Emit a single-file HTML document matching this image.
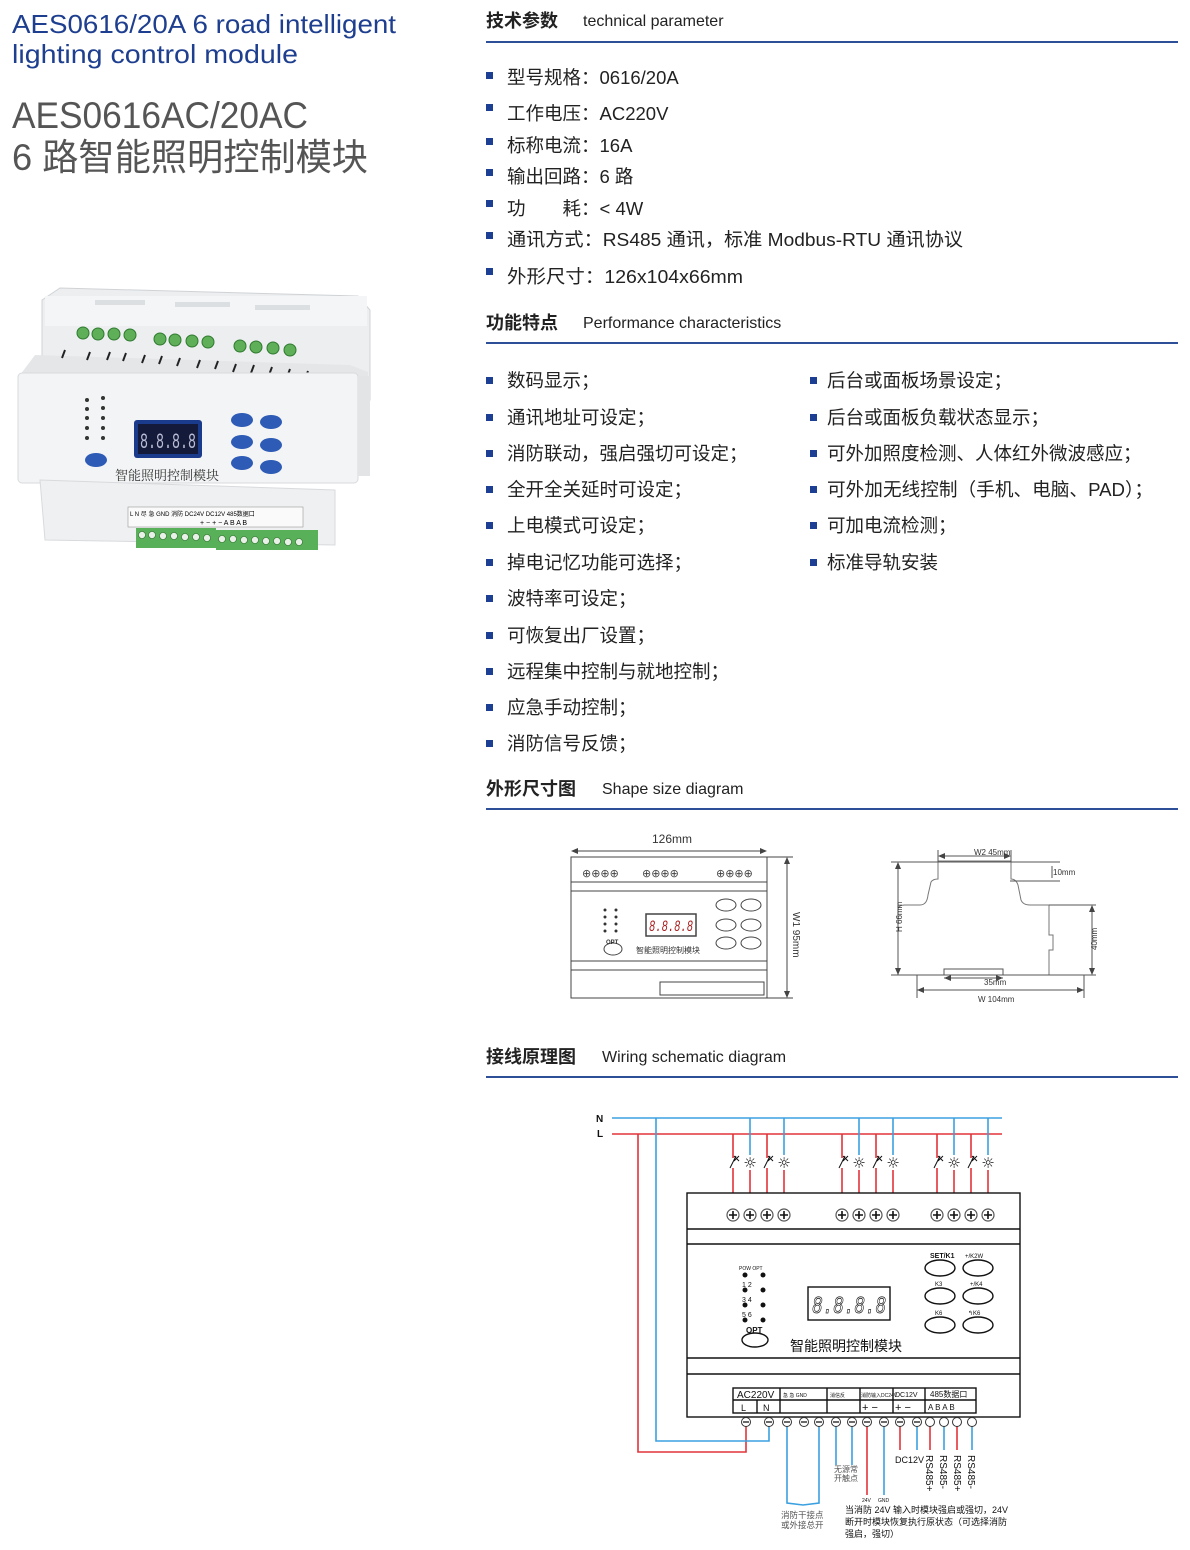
<!DOCTYPE html>
<html><head><meta charset="utf-8">
<style>
html,body{margin:0;padding:0;background:#fff;}
svg{display:block;}
.t{font-family:"Liberation Sans","Noto Sans CJK SC",sans-serif;}
.c{font-family:"Liberation Sans","Noto Sans CJK SC",sans-serif;}
</style></head>
<body>
<svg width="1190" height="1550" viewBox="0 0 1190 1550" xmlns="http://www.w3.org/2000/svg">
<!-- Left titles -->
<g class="t" fill="#1e3f8f" font-size="26">
<text x="12" y="33" textLength="384" lengthAdjust="spacingAndGlyphs">AES0616/20A  6 road intelligent</text>
<text x="12" y="63" textLength="286" lengthAdjust="spacingAndGlyphs">lighting control module</text>
</g>
<g class="t" fill="#555" font-size="37">
<text x="12" y="128" textLength="296" lengthAdjust="spacingAndGlyphs">AES0616AC/20AC</text>
<text x="12" y="170" textLength="356" lengthAdjust="spacingAndGlyphs">6 路智能照明控制模块</text>
</g>

<!-- Product image -->
<g>
<polygon points="42,300 60,288 358,296 370,310 370,400 42,400" fill="#eceef0" stroke="#d0d3d6"/>
<rect x="45" y="296" width="322" height="30" fill="#f4f5f6"/>
<g fill="#dcdfe2">
<rect x="95" y="300" width="50" height="5"/><rect x="175" y="302" width="55" height="5"/><rect x="255" y="305" width="55" height="5"/>
</g>
<g fill="#5fae58" stroke="#2f7a2f" stroke-width="1">
<circle cx="83" cy="333" r="6"/><circle cx="98" cy="334" r="6"/><circle cx="114" cy="334" r="6"/><circle cx="130" cy="335" r="6"/>
<circle cx="160" cy="339" r="6"/><circle cx="175" cy="340" r="6"/><circle cx="192" cy="341" r="6"/><circle cx="208" cy="342" r="6"/>
<circle cx="240" cy="346" r="6"/><circle cx="256" cy="347" r="6"/><circle cx="273" cy="348" r="6"/><circle cx="290" cy="350" r="6"/>
</g>
<polygon points="35,355 350,365 368,372 368,390 20,375" fill="#e4e6e8"/>
<g stroke="#222" stroke-width="2">
<line x1="65" y1="350" x2="62" y2="358"/><line x1="90" y1="352" x2="87" y2="360"/><line x1="110" y1="352" x2="107" y2="360"/><line x1="126" y1="353" x2="123" y2="361"/><line x1="145" y1="355" x2="142" y2="363"/><line x1="162" y1="356" x2="159" y2="364"/><line x1="180" y1="358" x2="177" y2="366"/><line x1="200" y1="360" x2="197" y2="368"/><line x1="218" y1="361" x2="215" y2="369"/><line x1="236" y1="364" x2="233" y2="372"/><line x1="254" y1="365" x2="251" y2="373"/><line x1="272" y1="367" x2="269" y2="375"/><line x1="290" y1="369" x2="287" y2="377"/><line x1="308" y1="371" x2="305" y2="379"/>
</g>
<rect x="18" y="373" width="340" height="110" rx="4" fill="#f3f4f5" stroke="#d8dadd"/>
<rect x="358" y="376" width="12" height="100" fill="#e2e4e6"/>
<rect x="134" y="420" width="68" height="38" rx="3" fill="#1a3a8c"/>
<rect x="138" y="424" width="60" height="30" fill="#141a3a"/>
<text x="140" y="448" font-family="Liberation Mono,monospace" font-size="22" fill="#b9bcd4" textLength="56" lengthAdjust="spacingAndGlyphs">8.8.8.8</text>
<g fill="#2d5bb5">
<ellipse cx="96" cy="460" rx="11" ry="7"/>
<ellipse cx="242" cy="420" rx="11" ry="7"/><ellipse cx="271" cy="422" rx="11" ry="7"/>
<ellipse cx="242" cy="442" rx="11" ry="7"/><ellipse cx="271" cy="445" rx="11" ry="7"/>
<ellipse cx="242" cy="463" rx="11" ry="7"/><ellipse cx="271" cy="467" rx="11" ry="7"/>
</g>
<g fill="#333"><circle cx="87" cy="400" r="2"/><circle cx="87" cy="409" r="2"/><circle cx="87" cy="418" r="2"/><circle cx="87" cy="428" r="2"/><circle cx="87" cy="438" r="2"/><circle cx="103" cy="398" r="2"/><circle cx="103" cy="408" r="2"/><circle cx="103" cy="418" r="2"/><circle cx="103" cy="428" r="2"/><circle cx="103" cy="438" r="2"/></g>
<text x="115" y="480" font-family="Liberation Serif,Noto Serif CJK SC,serif" font-size="13" fill="#333">智能照明控制模块</text>
<polygon points="40,480 335,490 335,545 45,540" fill="#eef0f1" stroke="#d8dadd"/>
<rect x="128" y="507" width="175" height="20" fill="#fafafa" stroke="#999" stroke-width="0.6"/>
<text x="130" y="516" font-size="6" font-family="Liberation Sans,sans-serif">L N 尽 急 GND 消防 DC24V DC12V 485数据口</text>
<text x="200" y="525" font-size="7" font-family="Liberation Sans,sans-serif">+ − + − A B A B</text>
<rect x="136" y="528" width="80" height="20" fill="#58b058"/>
<rect x="216" y="530" width="102" height="20" fill="#58b058"/>
<g fill="#e8f0e8" stroke="#2d6b2d" stroke-width="0.6"><circle cx="142" cy="535" r="3.5"/><circle cx="152" cy="535" r="3.5"/><circle cx="163" cy="536" r="3.5"/><circle cx="174" cy="536" r="3.5"/><circle cx="185" cy="537" r="3.5"/><circle cx="196" cy="537" r="3.5"/><circle cx="207" cy="538" r="3.5"/><circle cx="222" cy="539" r="3.5"/><circle cx="233" cy="539" r="3.5"/><circle cx="244" cy="540" r="3.5"/><circle cx="255" cy="540" r="3.5"/><circle cx="266" cy="541" r="3.5"/><circle cx="277" cy="541" r="3.5"/><circle cx="288" cy="542" r="3.5"/><circle cx="299" cy="542" r="3.5"/></g>
</g>

<!-- Right column headings -->
<g class="t">
<text x="486" y="27" font-size="18" fill="#222" font-weight="bold">技术参数</text>
<text x="583" y="26" font-size="16" fill="#222">technical parameter</text>
<text x="486" y="329" font-size="18" fill="#222" font-weight="bold">功能特点</text>
<text x="583" y="328" font-size="16" fill="#222">Performance  characteristics</text>
<text x="486" y="795" font-size="18" fill="#222" font-weight="bold">外形尺寸图</text>
<text x="602" y="794" font-size="16" fill="#222">Shape size diagram</text>
<text x="486" y="1063" font-size="18" fill="#222" font-weight="bold">接线原理图</text>
<text x="602" y="1062" font-size="16" fill="#222">Wiring schematic diagram</text>
</g>
<g fill="#2c4f97">
<rect x="486" y="41" width="692" height="2"/>
<rect x="486" y="342" width="692" height="2"/>
<rect x="486" y="808" width="692" height="2"/>
<rect x="486" y="1076" width="692" height="2"/>
</g>

<!-- Spec list -->
<g fill="#1c3f94">
<rect x="486" y="72" width="7" height="7"/><rect x="486" y="104" width="7" height="7"/><rect x="486" y="138" width="7" height="7"/><rect x="486" y="169" width="7" height="7"/><rect x="486" y="200" width="7" height="7"/><rect x="486" y="232" width="7" height="7"/><rect x="486" y="268" width="7" height="7"/>
</g>
<g class="t" font-size="18.5" fill="#222">
<text x="507" y="84">型号规格：0616/20A</text>
<text x="507" y="120">工作电压：AC220V</text>
<text x="507" y="152">标称电流：16A</text>
<text x="507" y="183">输出回路：6 路</text>
<text x="507" y="215">功　　耗：&lt; 4W</text>
<text x="507" y="246" textLength="456" lengthAdjust="spacingAndGlyphs">通讯方式：RS485 通讯，标准 Modbus-RTU 通讯协议</text>
<text x="507" y="283" textLength="236" lengthAdjust="spacingAndGlyphs">外形尺寸：126x104x66mm</text>
</g>

<!-- Feature list -->
<g fill="#1c3f94">
<rect x="486" y="377" width="7" height="7"/><rect x="486" y="414" width="7" height="7"/><rect x="486" y="450" width="7" height="7"/><rect x="486" y="486" width="7" height="7"/><rect x="486" y="522" width="7" height="7"/><rect x="486" y="559" width="7" height="7"/><rect x="486" y="595" width="7" height="7"/><rect x="486" y="632" width="7" height="7"/><rect x="486" y="668" width="7" height="7"/><rect x="486" y="704" width="7" height="7"/><rect x="486" y="740" width="7" height="7"/>
<rect x="810" y="377" width="7" height="7"/><rect x="810" y="414" width="7" height="7"/><rect x="810" y="450" width="7" height="7"/><rect x="810" y="486" width="7" height="7"/><rect x="810" y="522" width="7" height="7"/><rect x="810" y="559" width="7" height="7"/>
</g>
<g class="t" font-size="18.5" fill="#222">
<text x="507" y="387">数码显示；</text>
<text x="507" y="424">通讯地址可设定；</text>
<text x="507" y="460">消防联动，强启强切可设定；</text>
<text x="507" y="496">全开全关延时可设定；</text>
<text x="507" y="532">上电模式可设定；</text>
<text x="507" y="569">掉电记忆功能可选择；</text>
<text x="507" y="605">波特率可设定；</text>
<text x="507" y="642">可恢复出厂设置；</text>
<text x="507" y="678">远程集中控制与就地控制；</text>
<text x="507" y="714">应急手动控制；</text>
<text x="507" y="750">消防信号反馈；</text>
<text x="827" y="387">后台或面板场景设定；</text>
<text x="827" y="424">后台或面板负载状态显示；</text>
<text x="827" y="460">可外加照度检测、人体红外微波感应；</text>
<text x="827" y="496" textLength="326" lengthAdjust="spacingAndGlyphs">可外加无线控制（手机、电脑、PAD）；</text>
<text x="827" y="532">可加电流检测；</text>
<text x="827" y="569">标准导轨安装</text>
</g>

<!-- Shape size diagram left -->
<g stroke="#444" fill="none" stroke-width="1">
<rect x="571" y="857" width="196" height="141"/>
<line x1="571" y1="882" x2="767" y2="882"/><line x1="571" y1="891" x2="767" y2="891"/>
<line x1="571" y1="961" x2="767" y2="961"/><line x1="571" y1="970" x2="767" y2="970"/>
<line x1="573" y1="851" x2="765" y2="851"/>
<line x1="787" y1="859" x2="787" y2="996"/>
<line x1="767" y1="857" x2="793" y2="857"/><line x1="767" y1="998" x2="793" y2="998"/>
<rect x="646" y="914" width="50" height="22" stroke-width="1.5"/>
<ellipse cx="613" cy="949" rx="9" ry="6"/>
<ellipse cx="726" cy="905" rx="10" ry="6"/><ellipse cx="751" cy="905" rx="10" ry="6"/>
<ellipse cx="726" cy="925" rx="10" ry="6"/><ellipse cx="751" cy="925" rx="10" ry="6"/>
<ellipse cx="726" cy="943" rx="10" ry="6"/><ellipse cx="751" cy="943" rx="10" ry="6"/>
<rect x="660" y="982" width="104" height="13"/>
</g>
<g fill="#444"><polygon points="571,851 578,848 578,854"/><polygon points="767,851 760,848 760,854"/><polygon points="787,857 784,864 790,864"/><polygon points="787,998 784,991 790,991"/></g>
<g fill="#444" font-family="DejaVu Sans,sans-serif" font-size="11">
<text x="582" y="877">⊕⊕⊕⊕</text><text x="642" y="877">⊕⊕⊕⊕</text><text x="716" y="877">⊕⊕⊕⊕</text>
</g>
<g fill="#333" class="t">
<text x="652" y="843" font-size="12">126mm</text>
<text x="649" y="931" font-size="16" fill="#a22" font-family="Liberation Mono,monospace" font-style="italic" textLength="44" lengthAdjust="spacingAndGlyphs">8.8.8.8</text>
<text x="636" y="953" font-size="8">智能照明控制模块</text>
<text x="606" y="944" font-size="6" font-weight="bold">OPT</text>
<text x="793" y="912" font-size="10" transform="rotate(90 793 912)">W1  95mm</text>
</g>
<g fill="#333"><circle cx="605" cy="910" r="1.5"/><circle cx="605" cy="917" r="1.5"/><circle cx="605" cy="924" r="1.5"/><circle cx="605" cy="931" r="1.5"/><circle cx="616" cy="910" r="1.5"/><circle cx="616" cy="917" r="1.5"/><circle cx="616" cy="924" r="1.5"/><circle cx="616" cy="931" r="1.5"/></g>

<!-- Profile right -->
<g stroke="#555" fill="none" stroke-width="1">
<path d="M898,975 L898,910 Q898,905 905,905 L920,905 Q927,905 928,895 L931,882 Q933,879 938,879 L938,861 L1011,861 L1011,879 Q1016,879 1018,885 L1021,900 Q1023,905 1030,905 L1049,905 L1049,935 L1053,935 L1053,950 L1049,950 L1049,975 Z" stroke="#777"/>
<line x1="891" y1="862" x2="1060" y2="862"/>
<line x1="891" y1="975" x2="1060" y2="975"/>
<line x1="1010" y1="881" x2="1060" y2="881"/>
<line x1="1049" y1="905" x2="1096" y2="905"/>
<line x1="1049" y1="975" x2="1096" y2="975"/>
<line x1="898" y1="868" x2="898" y2="970"/>
<line x1="941" y1="856" x2="1009" y2="856"/>
<line x1="1052" y1="866" x2="1052" y2="878"/>
<line x1="1092" y1="908" x2="1092" y2="972"/>
<line x1="944" y1="978" x2="1003" y2="978"/>
<line x1="917" y1="990" x2="1084" y2="990"/>
<line x1="917" y1="975" x2="917" y2="998"/><line x1="1084" y1="975" x2="1084" y2="998"/>
<line x1="938" y1="850" x2="938" y2="862"/><line x1="1011" y1="850" x2="1011" y2="862"/>
<rect x="944" y="969" width="59" height="6"/>
</g>
<g fill="#444">
<polygon points="898,862 895,869 901,869"/><polygon points="898,975 895,968 901,968"/>
<polygon points="1092,905 1089,912 1095,912"/><polygon points="1092,975 1089,968 1095,968"/>
<polygon points="938,856 945,853 945,859"/><polygon points="1011,856 1004,853 1004,859"/>
<polygon points="917,990 924,987 924,993"/><polygon points="1084,990 1077,987 1077,993"/>
<polygon points="944,978 951,975 951,981"/><polygon points="1003,978 996,975 996,981"/>
</g>
<g class="t" fill="#333" font-size="8">
<text x="974" y="855">W2  45mm</text>
<text x="1053" y="875">10mm</text>
<text x="984" y="985">35mm</text>
<text x="978" y="1002">W    104mm</text>
<text x="902" y="932" transform="rotate(-90 902 932)">H    66mm</text>
<text x="1097" y="950" transform="rotate(-90 1097 950)">40mm</text>
</g>

<!-- Wiring diagram -->
<g font-family="Liberation Sans,sans-serif" font-weight="bold" font-size="10" fill="#111">
<text x="596" y="1122">N</text><text x="597" y="1137">L</text>
</g>
<g fill="none" stroke-width="1.6">
<line x1="612" y1="1118" x2="1002" y2="1118" stroke="#3ba0e0"/>
<line x1="612" y1="1134" x2="1002" y2="1134" stroke="#e2333a"/>
<path d="M746,1422 L746,1452 L638,1452 L638,1134" stroke="#e2333a"/>
<path d="M769,1422 L769,1441 L656,1441 L656,1118" stroke="#3ba0e0"/>
<g stroke="#e2333a">
<path d="M733,1134 V1158 M733,1168 V1193"/><path d="M767,1134 V1158 M767,1168 V1193"/>
<path d="M842,1134 V1158 M842,1168 V1193"/><path d="M876,1134 V1158 M876,1168 V1193"/>
<path d="M937,1134 V1158 M937,1168 V1193"/><path d="M971,1134 V1158 M971,1168 V1193"/>
<path d="M750,1170 V1193"/><path d="M784,1170 V1193"/><path d="M859,1170 V1193"/><path d="M893,1170 V1193"/><path d="M954,1170 V1193"/><path d="M988,1170 V1193"/>
</g>
<g stroke="#3ba0e0">
<path d="M750,1118 V1155"/><path d="M784,1118 V1155"/><path d="M859,1118 V1155"/><path d="M893,1118 V1155"/><path d="M954,1118 V1155"/><path d="M988,1118 V1155"/>
</g>
<path d="M787,1422 V1503 L803,1505 L819,1503 V1422" stroke="#3ba0e0"/>
<path d="M836,1422 V1465 M852,1422 V1465" stroke="#3ba0e0"/>
<path d="M867,1422 V1495" stroke="#e2333a"/>
<path d="M884,1422 V1495" stroke="#3ba0e0"/>
<path d="M900,1422 V1450" stroke="#e2333a"/>
<path d="M917,1422 V1450" stroke="#3ba0e0"/>
<path d="M930,1422 V1450" stroke="#e2333a"/><path d="M944,1422 V1450" stroke="#3ba0e0"/>
<path d="M957,1422 V1450" stroke="#e2333a"/><path d="M972,1422 V1450" stroke="#3ba0e0"/>
</g>
<g stroke="#111" stroke-width="1" fill="none">
<path d="M730,1168 L736,1156 M734,1156 L739,1161 M739,1156 L734,1161"/>
<path d="M764,1168 L770,1156 M768,1156 L773,1161 M773,1156 L768,1161"/>
<path d="M839,1168 L845,1156 M843,1156 L848,1161 M848,1156 L843,1161"/>
<path d="M873,1168 L879,1156 M877,1156 L882,1161 M882,1156 L877,1161"/>
<path d="M934,1168 L940,1156 M938,1156 L943,1161 M943,1156 L938,1161"/>
<path d="M968,1168 L974,1156 M972,1156 L977,1161 M977,1156 L972,1161"/>
</g>
<g font-size="15" fill="#111" font-family="DejaVu Sans,sans-serif" text-anchor="middle">
<text x="750" y="1168">☼</text><text x="784" y="1168">☼</text><text x="859" y="1168">☼</text><text x="893" y="1168">☼</text><text x="954" y="1168">☼</text><text x="988" y="1168">☼</text>
</g>
<g stroke="#111" stroke-width="1.4" fill="none">
<rect x="687" y="1193" width="333" height="224"/>
<line x1="687" y1="1229" x2="1020" y2="1229"/><line x1="687" y1="1244" x2="1020" y2="1244"/>
<line x1="687" y1="1358" x2="1020" y2="1358"/><line x1="687" y1="1374" x2="1020" y2="1374"/>
<rect x="808" y="1287" width="82" height="33"/>
<ellipse cx="755" cy="1340" rx="13" ry="7"/>
<ellipse cx="940" cy="1268" rx="15" ry="8"/><ellipse cx="978" cy="1268" rx="15" ry="8"/>
<ellipse cx="940" cy="1296" rx="15" ry="8"/><ellipse cx="978" cy="1296" rx="15" ry="8"/>
<ellipse cx="940" cy="1325" rx="15" ry="8"/><ellipse cx="978" cy="1325" rx="15" ry="8"/>
<rect x="733" y="1388" width="243" height="25"/>
<line x1="733" y1="1400" x2="976" y2="1400"/>
<line x1="780" y1="1388" x2="780" y2="1413"/><line x1="827" y1="1388" x2="827" y2="1413"/>
<line x1="860" y1="1388" x2="860" y2="1413"/><line x1="893" y1="1388" x2="893" y2="1413"/>
<line x1="925" y1="1388" x2="925" y2="1413"/>
<line x1="757" y1="1400" x2="757" y2="1413"/>
</g>
<g fill="#fff" stroke="#555" stroke-width="1.2">
<circle cx="733" cy="1215" r="6"/><circle cx="750" cy="1215" r="6"/><circle cx="767" cy="1215" r="6"/><circle cx="784" cy="1215" r="6"/>
<circle cx="842" cy="1215" r="6"/><circle cx="859" cy="1215" r="6"/><circle cx="876" cy="1215" r="6"/><circle cx="893" cy="1215" r="6"/>
<circle cx="937" cy="1215" r="6"/><circle cx="954" cy="1215" r="6"/><circle cx="971" cy="1215" r="6"/><circle cx="988" cy="1215" r="6"/>
</g>
<g stroke="#111" stroke-width="1.6">
<path d="M729,1215h8M733,1211v8M746,1215h8M750,1211v8M763,1215h8M767,1211v8M780,1215h8M784,1211v8"/>
<path d="M838,1215h8M842,1211v8M855,1215h8M859,1211v8M872,1215h8M876,1211v8M889,1215h8M893,1211v8"/>
<path d="M933,1215h8M937,1211v8M950,1215h8M954,1211v8M967,1215h8M971,1211v8M984,1215h8M988,1211v8"/>
</g>
<g fill="#fff" stroke="#333" stroke-width="1">
<circle cx="746" cy="1422" r="4.5"/><circle cx="769" cy="1422" r="4.5"/><circle cx="787" cy="1422" r="4.5"/><circle cx="804" cy="1422" r="4.5"/><circle cx="819" cy="1422" r="4.5"/><circle cx="836" cy="1422" r="4.5"/><circle cx="852" cy="1422" r="4.5"/><circle cx="867" cy="1422" r="4.5"/><circle cx="884" cy="1422" r="4.5"/><circle cx="900" cy="1422" r="4.5"/><circle cx="917" cy="1422" r="4.5"/><circle cx="930" cy="1422" r="4.5"/><circle cx="944" cy="1422" r="4.5"/><circle cx="957" cy="1422" r="4.5"/><circle cx="972" cy="1422" r="4.5"/>
</g>
<g stroke="#111" stroke-width="1.3">
<path d="M743,1422h6M766,1422h6M784,1422h6M801,1422h6M816,1422h6M833,1422h6M849,1422h6M864,1422h6M881,1422h6M897,1422h6M914,1422h6"/>
</g>
<g fill="#111"><circle cx="745" cy="1275" r="2.5"/><circle cx="745" cy="1290" r="2.5"/><circle cx="745" cy="1305" r="2.5"/><circle cx="745" cy="1320" r="2.5"/><circle cx="763" cy="1275" r="2.5"/><circle cx="763" cy="1290" r="2.5"/><circle cx="763" cy="1305" r="2.5"/><circle cx="763" cy="1320" r="2.5"/></g>
<g class="c" fill="#111">
<text x="812" y="1313" font-family="Liberation Mono,monospace" font-size="24" font-style="italic" fill="none" stroke="#222" stroke-width="0.8" textLength="74" lengthAdjust="spacingAndGlyphs">8.8.8.8</text>
<text x="790" y="1351" font-size="14">智能照明控制模块</text>
<text x="746" y="1333" font-size="8" font-weight="bold">OPT</text>
<text x="739" y="1270" font-size="5">POW   OPT</text>
<text x="742" y="1287" font-size="7">1      2</text><text x="742" y="1302" font-size="7">3      4</text><text x="742" y="1317" font-size="7">5      6</text>
<text x="930" y="1258" font-size="7" font-weight="bold">SET/K1</text><text x="965" y="1258" font-size="6">+/K2W</text>
<text x="935" y="1286" font-size="6">K3</text><text x="970" y="1286" font-size="6">+/K4</text>
<text x="935" y="1315" font-size="6">K6</text><text x="968" y="1315" font-size="6">↰K6</text>
<text x="737" y="1398" font-size="10">AC220V</text>
<text x="741" y="1411" font-size="9">L</text><text x="763" y="1411" font-size="9">N</text>
<text x="783" y="1397" font-size="5">急 急 GND</text>
<text x="830" y="1397" font-size="5">消信反</text>
<text x="861" y="1397" font-size="5">消防输入DC24V</text>
<text x="895" y="1397" font-size="7">DC12V</text>
<text x="930" y="1397" font-size="8">485数据口</text>
<text x="862" y="1411" font-size="11">+ −</text><text x="895" y="1411" font-size="11">+ −</text>
<text x="928" y="1410" font-size="8">A  B  A  B</text>
<text x="895" y="1463" font-size="9">DC12V</text>
<text x="926" y="1455" font-size="10" transform="rotate(90 926 1455)">RS485+</text>
<text x="940" y="1455" font-size="10" transform="rotate(90 940 1455)">RS485-</text>
<text x="954" y="1455" font-size="10" transform="rotate(90 954 1455)">RS485+</text>
<text x="968" y="1455" font-size="10" transform="rotate(90 968 1455)">RS485-</text>
<text x="834" y="1472" font-size="8" fill="#555">无源常</text>
<text x="834" y="1481" font-size="8" fill="#555">开触点</text>
<text x="862" y="1502" font-size="5">24V</text><text x="878" y="1502" font-size="5">GND</text>
<text x="781" y="1518" font-size="8.5" fill="#555">消防干接点</text>
<text x="781" y="1528" font-size="8.5" fill="#555">或外接总开</text>
<text x="845" y="1513" font-size="9">当消防 24V 输入时模块强启或强切，24V</text>
<text x="845" y="1525" font-size="9">断开时模块恢复执行原状态（可选择消防</text>
<text x="845" y="1537" font-size="9">强启，强切）</text>
</g>
</svg>
</body></html>
